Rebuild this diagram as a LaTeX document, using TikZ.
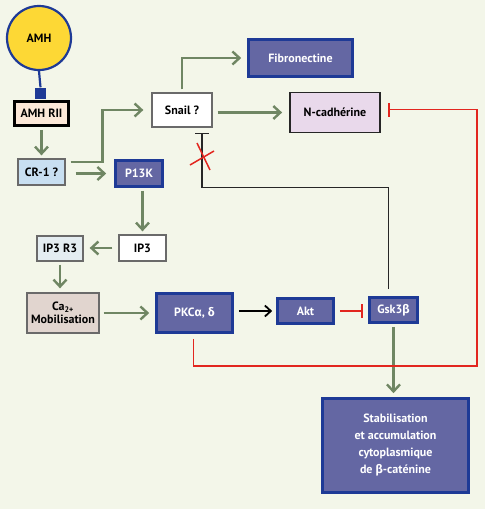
\documentclass[tikz,border=0pt]{standalone}
\usepackage{fontspec}
\setmainfont{PT Sans}
\newfontfamily\gk{Fira Sans}
\usetikzlibrary{arrows.meta,calc}
\definecolor{bg}{HTML}{F3F6E9}
\definecolor{garr}{HTML}{6F8663}
\definecolor{dblue}{HTML}{1E3A96}
\definecolor{slate}{HTML}{6467A3}
\definecolor{rred}{HTML}{E2261F}
\definecolor{amhy}{HTML}{FDD835}
\definecolor{peach}{HTML}{FCE8D8}
\definecolor{lblue}{HTML}{C8DFF1}
\definecolor{vlblue}{HTML}{E4EDF1}
\definecolor{lav}{HTML}{E9D9EB}
\definecolor{cafill}{HTML}{E1D5CF}
\definecolor{gbord}{HTML}{6A6A6A}
\begin{document}
\begin{tikzpicture}[x=1pt,y=-1pt,
  every node/.style={font=\bfseries\fontsize{12}{14}\selectfont, inner sep=0pt, align=center},
  lbox/.style={draw=gbord, line width=1.3pt, text=black},
  dbox/.style={draw=dblue, line width=2.6pt, fill=slate, text=white},
  garrow/.style={draw=garr, line width=2.6pt, -{Straight Barb[length=7pt,width=13pt,line width=2.4pt]}},
  barrow/.style={draw=black, line width=1.6pt, -{Straight Barb[length=6pt,width=11pt,line width=1.8pt]}},
  rinh/.style={draw=rred, line width=1.6pt, -{Bar[width=14pt,line width=1.8pt]}},
  binh/.style={draw=black!85, line width=1.6pt, -{Bar[width=14pt,line width=1.8pt]}}]
\fill[bg] (0,0) rectangle (485,509);
\useasboundingbox (0,0) rectangle (485,509);
% nodes
\node[circle, draw=dblue, line width=2.2pt, fill=amhy, minimum size=64pt] (amh) at (39,38) {AMH};
\node[fill=dblue, minimum size=11pt] (sq) at (40.5,93) {};
\node[draw=black, line width=2.8pt, fill=peach, minimum width=54pt, minimum height=24pt] (amhrii) at (41.5,113.5) {AMH RII};
\node[lbox, fill=lblue, minimum width=47pt, minimum height=26pt] (cr1) at (41.5,172) {CR-1 ?};
\node[dbox, minimum width=47pt, minimum height=26pt] (p13k) at (139,173.5) {P13K};
\node[lbox, fill=white, minimum width=60pt, minimum height=34pt] (snail) at (182,110) {Snail ?};
\node[dbox, minimum width=104pt, minimum height=37pt] (fib) at (300.5,58) {Fibronectine};
\node[draw=black!85, line width=1.8pt, fill=lav, minimum width=90pt, minimum height=40pt] (ncad) at (335,112.5) {N-cadhérine};
\node[lbox, fill=white, minimum width=47pt, minimum height=26pt] (ip3) at (142.5,248) {IP3};
\node[lbox, fill=vlblue, minimum width=46pt, minimum height=25pt] (ip3r3) at (60,248.5) {IP3 R3};
\node[lbox, fill=cafill, minimum width=72pt, minimum height=40pt] (ca) at (63,313) {Ca\textsubscript{2+}\\[-1pt]Mobilisation};
\node[dbox, minimum width=76pt, minimum height=39pt] (pkc) at (194.5,313) {PKC{\gk α}, {\gk δ}};
\node[dbox, minimum width=56pt, minimum height=25pt] (akt) at (305.5,311) {Akt};
\node[dbox, minimum width=48pt, minimum height=25pt] (gsk) at (393.5,310) {Gsk3{\gk β}};
\node[dbox, minimum width=146pt, minimum height=94pt, font=\bfseries\fontsize{12}{17}\selectfont] (stab) at (395.5,445.5) {Stabilisation\\et accumulation\\cytoplasmique\\de {\gk β}-caténine};
\coordinate (rc) at (477,366);
% connectors
\draw[dblue, line width=2.2pt] (amh.south) -- (sq.north);
\draw[garrow, shorten <=3pt, shorten >=3pt] (amhrii.south) -- (cr1.north);
\draw[garrow, shorten <=10pt, shorten >=8pt] (cr1.east |- p13k.west) -- (p13k.west);
\draw[garrow, shorten >=8pt] ($(cr1.east)+(5,-10)$) -- ++(32,0) |- (snail.west);
\draw[garrow, shorten <=3pt, shorten >=6pt] (snail.north) |- (fib.west);
\draw[garrow, shorten <=5pt, shorten >=7pt] (snail.east |- ncad.west) -- (ncad.west);
\draw[garrow, shorten <=3pt, shorten >=3pt] (ip3.north |- p13k.south) -- (ip3.north);
\draw[garrow, shorten <=6pt, shorten >=6pt] (ip3.west) -- (ip3r3.east |- ip3.west);
\draw[garrow, shorten <=3pt, shorten >=4pt] (ip3r3.south) -- (ip3r3.south |- ca.north);
\draw[garrow, shorten <=4pt, shorten >=6pt] (ca.east) -- (pkc.west);
\draw[barrow, shorten <=5pt, shorten >=4pt] (pkc.east |- akt.west) -- (akt.west);
\draw[rinh, shorten <=5pt, shorten >=5pt] (akt.east) -- (gsk.west |- akt.east);
\draw[garrow, shorten <=3pt, shorten >=4pt] (gsk.south) -- (gsk.south |- stab.north);
\draw[binh] ($(gsk.north)+(-5,-7)$) |- ($(snail.south)+(20,60)$) -- ($(snail.south)+(20,5)$);
\draw[rinh] ($(pkc.south)+(-1,5)$) |- (rc) |- ($(ncad.east)+(7,-3)$);
% red cross
\draw[rred, line width=1.5pt] (197,143) -- (210,170) (190,165) -- (214,151);
\end{tikzpicture}
\end{document}
